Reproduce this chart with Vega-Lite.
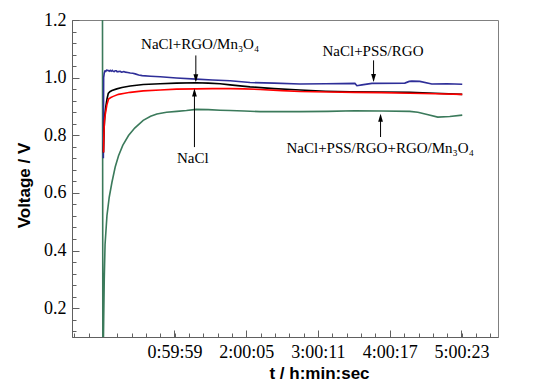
{
  "$schema": "https://vega.github.io/schema/vega-lite/v6.json",
  "width": 426,
  "height": 317,
  "autosize": "none",
  "padding": {"left": 72, "top": 20, "right": 35, "bottom": 52},
  "background": "white",
  "config": {
    "view": {"stroke": "#808080", "strokeWidth": 1},
    "axis": {
      "grid": false,
      "labelFont": "Liberation Serif",
      "labelFontSize": 18,
      "labelColor": "#000",
      "titleFont": "Liberation Sans",
      "titleFontSize": 17,
      "titleFontWeight": "bold",
      "titleColor": "#000",
      "domainColor": "#606060",
      "tickColor": "#606060"
    }
  },
  "datasets": {
    "curves": [
      {"s":"green","t":-20,"v":1.3},{"s":"green","t":0,"v":0.0},{"s":"green","t":20,"v":0.05},{"s":"green","t":40,"v":0.15},{"s":"green","t":70,"v":0.3},{"s":"green","t":110,"v":0.42},{"s":"green","t":206,"v":0.521},{"s":"green","t":320,"v":0.585},{"s":"green","t":457,"v":0.637},{"s":"green","t":620,"v":0.69},{"s":"green","t":788,"v":0.729},{"s":"green","t":1000,"v":0.765},{"s":"green","t":1290,"v":0.799},{"s":"green","t":1600,"v":0.825},{"s":"green","t":2028,"v":0.852},{"s":"green","t":2400,"v":0.866},{"s":"green","t":2715,"v":0.874},{"s":"green","t":3200,"v":0.88},{"s":"green","t":3719,"v":0.883},{"s":"green","t":4200,"v":0.886},{"s":"green","t":4688,"v":0.89},{"s":"green","t":5300,"v":0.889},{"s":"green","t":5893,"v":0.887},{"s":"green","t":6395,"v":0.886},{"s":"green","t":7100,"v":0.884},{"s":"green","t":7901,"v":0.882},{"s":"green","t":8900,"v":0.882},{"s":"green","t":9908,"v":0.882},{"s":"green","t":11300,"v":0.883},{"s":"green","t":12669,"v":0.885},{"s":"green","t":14000,"v":0.884},{"s":"green","t":15429,"v":0.883},{"s":"green","t":15831,"v":0.88},{"s":"green","t":16300,"v":0.872},{"s":"green","t":16835,"v":0.863},{"s":"green","t":17437,"v":0.865},{"s":"green","t":18063,"v":0.87},
      {"s":"blue","t":25,"v":0.72},{"s":"blue","t":40,"v":1.0},{"s":"blue","t":70,"v":1.016},{"s":"blue","t":105,"v":1.023},{"s":"blue","t":150,"v":1.022},{"s":"blue","t":190,"v":1.026},{"s":"blue","t":271,"v":1.025},{"s":"blue","t":320,"v":1.022},{"s":"blue","t":371,"v":1.025},{"s":"blue","t":420,"v":1.022},{"s":"blue","t":472,"v":1.025},{"s":"blue","t":520,"v":1.022},{"s":"blue","t":572,"v":1.021},{"s":"blue","t":620,"v":1.024},{"s":"blue","t":673,"v":1.024},{"s":"blue","t":720,"v":1.02},{"s":"blue","t":773,"v":1.021},{"s":"blue","t":873,"v":1.022},{"s":"blue","t":930,"v":1.019},{"s":"blue","t":999,"v":1.02},{"s":"blue","t":1060,"v":1.021},{"s":"blue","t":1124,"v":1.019},{"s":"blue","t":1250,"v":1.018},{"s":"blue","t":1375,"v":1.016},{"s":"blue","t":1500,"v":1.015},{"s":"blue","t":1626,"v":1.013},{"s":"blue","t":1800,"v":1.009},{"s":"blue","t":1977,"v":1.007},{"s":"blue","t":2400,"v":1.005},{"s":"blue","t":2881,"v":1.003},{"s":"blue","t":3700,"v":0.999},{"s":"blue","t":4688,"v":0.995},{"s":"blue","t":5500,"v":0.992},{"s":"blue","t":6395,"v":0.989},{"s":"blue","t":7399,"v":0.983},{"s":"blue","t":8600,"v":0.981},{"s":"blue","t":9908,"v":0.978},{"s":"blue","t":11200,"v":0.979},{"s":"blue","t":12669,"v":0.98},{"s":"blue","t":12769,"v":0.972},{"s":"blue","t":13020,"v":0.975},{"s":"blue","t":13522,"v":0.98},{"s":"blue","t":15178,"v":0.981},{"s":"blue","t":15400,"v":0.987},{"s":"blue","t":15530,"v":0.988},{"s":"blue","t":15931,"v":0.987},{"s":"blue","t":16534,"v":0.978},{"s":"blue","t":17300,"v":0.979},{"s":"blue","t":18063,"v":0.977},
      {"s":"black","t":30,"v":0.74},{"s":"black","t":60,"v":0.82},{"s":"black","t":100,"v":0.87},{"s":"black","t":150,"v":0.9},{"s":"black","t":206,"v":0.925},{"s":"black","t":271,"v":0.945},{"s":"black","t":350,"v":0.951},{"s":"black","t":457,"v":0.955},{"s":"black","t":700,"v":0.961},{"s":"black","t":959,"v":0.966},{"s":"black","t":1375,"v":0.971},{"s":"black","t":2028,"v":0.976},{"s":"black","t":2881,"v":0.979},{"s":"black","t":3700,"v":0.981},{"s":"black","t":4688,"v":0.982},{"s":"black","t":5300,"v":0.981},{"s":"black","t":5893,"v":0.979},{"s":"black","t":6395,"v":0.975},{"s":"black","t":7399,"v":0.968},{"s":"black","t":8600,"v":0.962},{"s":"black","t":9908,"v":0.957},{"s":"black","t":11200,"v":0.953},{"s":"black","t":12418,"v":0.951},{"s":"black","t":14000,"v":0.95},{"s":"black","t":15429,"v":0.949},{"s":"black","t":16700,"v":0.946},{"s":"black","t":18063,"v":0.942},
      {"s":"red","t":35,"v":0.74},{"s":"red","t":50,"v":0.8},{"s":"red","t":80,"v":0.85},{"s":"red","t":120,"v":0.872},{"s":"red","t":200,"v":0.905},{"s":"red","t":286,"v":0.926},{"s":"red","t":400,"v":0.931},{"s":"red","t":522,"v":0.935},{"s":"red","t":788,"v":0.942},{"s":"red","t":1100,"v":0.946},{"s":"red","t":1375,"v":0.949},{"s":"red","t":2028,"v":0.954},{"s":"red","t":2881,"v":0.957},{"s":"red","t":3700,"v":0.96},{"s":"red","t":4688,"v":0.961},{"s":"red","t":5500,"v":0.962},{"s":"red","t":6395,"v":0.962},{"s":"red","t":7100,"v":0.961},{"s":"red","t":7901,"v":0.959},{"s":"red","t":9000,"v":0.955},{"s":"red","t":9908,"v":0.952},{"s":"red","t":11300,"v":0.95},{"s":"red","t":12669,"v":0.949},{"s":"red","t":14000,"v":0.948},{"s":"red","t":15429,"v":0.946},{"s":"red","t":16700,"v":0.944},{"s":"red","t":18063,"v":0.942}
    ],
    "labels": [
      {"label":"NaCl+RGO/Mn₃O₄","t":4889,"v":1.1005},
      {"label":"NaCl","t":4520,"v":0.705},
      {"label":"NaCl+PSS/RGO","t":13576,"v":1.074},
      {"label":"NaCl+PSS/RGO+RGO/Mn₃O₄","t":13938,"v":0.74}
    ],
    "arrows": [
      {"t":4673,"v":1.077,"v2":0.99,"tip":0.998,"dir":"down"},
      {"t":4603,"v":0.759,"v2":0.955,"tip":0.948,"dir":"up"},
      {"t":13606,"v":1.06,"v2":0.99,"tip":0.999,"dir":"down"},
      {"t":13957,"v":0.794,"v2":0.868,"tip":0.861,"dir":"up"}
    ]
  },
  "layer": [
    {
      "data": {"name": "curves"},
      "mark": {"type": "line", "clip": true, "strokeWidth": 1.6, "interpolate": "linear"},
      "encoding": {
        "x": {
          "field": "t", "type": "quantitative",
          "scale": {"domain": [-1551, 19860], "nice": false, "zero": false},
          "axis": {
            "orient": "bottom",
            "values": [3599, 7205, 10811, 14417, 18023],
            "labelExpr": "floor(datum.value/3600) + ':' + (floor((datum.value%3600)/60) < 10 ? '0' : '') + floor((datum.value%3600)/60) + ':' + ((datum.value%60) < 10 ? '0' : '') + (datum.value%60)",
            "tickSize": -7,
            "labelPadding": 13,
            "title": "t / h:min:sec",
            "titleX": 247,
            "titleY": 36,
            "titleBaseline": "middle",
            "titleAlign": "center"
          }
        },
        "y": {
          "field": "v", "type": "quantitative",
          "scale": {"domain": [0.1, 1.2], "nice": false, "zero": false},
          "axis": {
            "orient": "left",
            "values": [0.2, 0.4, 0.6, 0.8, 1.0, 1.2],
            "format": ".1f",
            "tickSize": -7,
            "labelPadding": 13,
            "title": "Voltage / V",
            "titleX": -48,
            "titleY": 165,
            "titleBaseline": "middle",
            "titleAlign": "center"
          }
        },
        "color": {
          "field": "s", "type": "nominal",
          "scale": {"domain": ["green", "blue", "black", "red"], "range": ["#3b7a5b", "#2e2e98", "#000000", "#ff0000"]},
          "legend": null
        },
        "strokeWidth": {
          "field": "s", "type": "nominal",
          "scale": {"domain": ["green", "blue", "black", "red"], "range": [1.3, 1.2, 1.8, 1.8]},
          "legend": null
        }
      }
    },
    {
      "data": {"name": "arrows"},
      "mark": {"type": "rule", "color": "#000", "strokeWidth": 1},
      "encoding": {
        "x": {
          "field": "t", "type": "quantitative",
          "axis": {
            "orient": "bottom",
            "values": [-1442, -721, 0, 721, 1442, 2164, 2885, 3606, 4327, 5048, 5770, 6491, 7212, 7933, 8654, 9376, 10097, 10818, 11539, 12260, 12982, 13703, 14424, 15145, 15866, 16588, 17309, 18030, 18751, 19472],
            "labels": false,
            "domain": false,
            "tickSize": -4,
            "title": null
          }
        },
        "y": {
          "field": "v", "type": "quantitative",
          "axis": {
            "orient": "left",
            "values": [0.12, 0.16, 0.24, 0.28, 0.32, 0.36, 0.44, 0.48, 0.52, 0.56, 0.64, 0.68, 0.72, 0.76, 0.84, 0.88, 0.92, 0.96, 1.04, 1.08, 1.12, 1.16],
            "labels": false,
            "domain": false,
            "tickSize": -4,
            "title": null
          }
        },
        "y2": {"field": "v2"}
      }
    },
    {
      "data": {"name": "arrows"},
      "mark": {"type": "point", "filled": true, "color": "#000", "opacity": 1, "size": 64, "strokeWidth": 0},
      "encoding": {
        "x": {"field": "t", "type": "quantitative", "axis": null},
        "y": {"field": "tip", "type": "quantitative", "axis": null},
        "shape": {
          "field": "dir", "type": "nominal",
          "scale": {"domain": ["down", "up"], "range": ["M-0.6,-1L0.6,-1L0,1Z", "M-0.6,1L0.6,1L0,-1Z"]},
          "legend": null
        }
      }
    },
    {
      "data": {"name": "labels"},
      "mark": {"type": "text", "font": "Liberation Serif", "fontSize": 15, "color": "#000", "align": "center", "baseline": "alphabetic"},
      "encoding": {
        "x": {"field": "t", "type": "quantitative", "axis": null},
        "y": {"field": "v", "type": "quantitative", "axis": null},
        "text": {"field": "label"}
      }
    }
  ],
  "resolve": {"axis": {"x": "independent", "y": "independent"}}
}
